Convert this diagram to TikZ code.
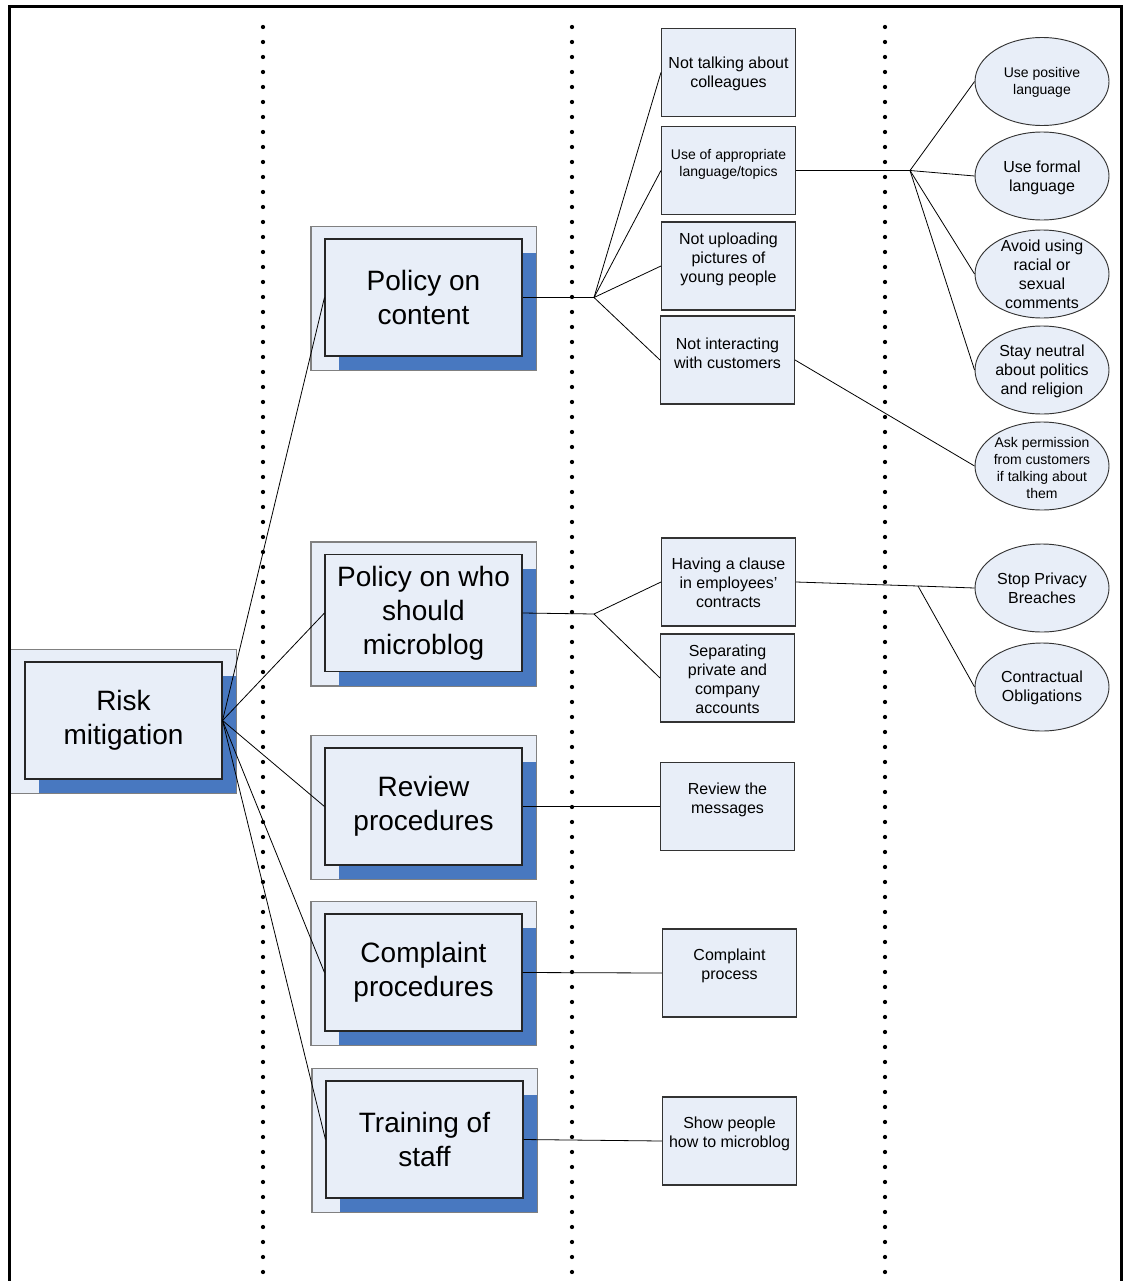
\documentclass[tikz,border=0pt]{standalone}
\usepackage{fontspec}
\setmainfont{Liberation Sans}
\usepackage{xcolor}
\usepackage{tikz}
\usetikzlibrary{shapes.geometric,shadows,backgrounds}

\definecolor{boxfill}{HTML}{E8EEF8}
\definecolor{boxblue}{HTML}{4878C0}
\definecolor{framegray}{HTML}{808080}

\tikzset{
  mainbox/.style={draw=black!85, line width=0.8pt, fill=boxfill, inner sep=0pt,
    minimum width=147.75pt, minimum height=87.75pt, align=center,
    font=\fontsize{21}{25.5}\selectfont,
    general shadow={fill=boxblue, shadow xshift=10.5pt, shadow yshift=-10.5pt}},
  outerbox/.style={draw=framegray, line width=0.9pt, fill=boxfill},
  leaf/.style={draw=black!80, line width=0.8pt, fill=boxfill, inner sep=0pt,
    minimum width=100.5pt, minimum height=66pt},
  bubble/.style={ellipse, draw=black!80, line width=0.7pt, fill=boxfill, inner sep=0pt,
    minimum width=100.5pt, minimum height=66pt},
  txt/.style={align=center, inner sep=0pt, font=\fontsize{12}{14.25}\selectfont},
  smalltxt/.style={align=center, inner sep=0pt, font=\fontsize{10.5}{12.75}\selectfont},
  link/.style={draw=black, line width=0.6pt},
  dotline/.style={line width=3.2pt, line cap=round, dash pattern=on 0pt off 11.25pt}
}

\begin{document}
\begin{tikzpicture}[x=0.75pt,y=0.75pt]
\useasboundingbox (0,0) rectangle (1123,-1281);
% page frame
\draw [line width=2.25pt] (9.5,-1281) -- (9.5,-7) -- (1121.5,-7) -- (1121.5,-1281);
% column separators
\draw [dotline] (263,-27) -- (263,-1281);
\draw [dotline] (572,-27) -- (572,-1281);
\draw [dotline] (885,-27) -- (885,-1281);
% main boxes
\node [mainbox] (risk) at (123.5,-720.5) {Risk\\mitigation};
\node [mainbox] (content) at (423.5,-297.5) {Policy on\\content};
\node [mainbox] (who) at (423.5,-613) {Policy on who\\should\\microblog};
\node [mainbox] (review) at (423.5,-806.5) {Review\\procedures};
\node [mainbox] (complaint) at (423.5,-972.5) {Complaint\\procedures};
\node [mainbox] (training) at (424.5,-1139.5) {Training of\\staff};
\begin{scope}[on background layer]
\draw [outerbox] ([shift={(-14,12)}]risk.north west) rectangle ([shift={(14,-14)}]risk.south east);
\draw [outerbox] ([shift={(-13.5,12)}]content.north west) rectangle ([shift={(14,-14)}]content.south east);
\draw [outerbox] ([shift={(-13.5,12)}]who.north west) rectangle ([shift={(14,-14)}]who.south east);
\draw [outerbox] ([shift={(-13.5,12)}]review.north west) rectangle ([shift={(14,-14)}]review.south east);
\draw [outerbox] ([shift={(-13.5,12)}]complaint.north west) rectangle ([shift={(14,-14)}]complaint.south east);
\draw [outerbox] ([shift={(-13.5,12)}]training.north west) rectangle ([shift={(14,-14)}]training.south east);
\end{scope}
% rules
\node [leaf, label={[txt,yshift=-0.75pt]center:{Not talking about\\colleagues}}] (colleagues) at (728.5,-72.5) {};
\node [leaf, label={[smalltxt,yshift=4.5pt]center:{Use of appropriate\\language/topics}}] (topics) at (728.5,-170.5) {};
\node [leaf, label={[txt,yshift=5pt]center:{Not uploading\\pictures of\\young people}}] (pictures) at (728.5,-266) {};
\node [leaf, label={[txt,yshift=5pt]center:{Not interacting\\with customers}}] (customers) at (727.5,-360) {};
\node [leaf, label={[txt,yshift=-0.5pt]center:{Having a clause\\in employees’\\contracts}}] (clause) at (728.5,-582) {};
\node [leaf, label={[txt,yshift=-1pt]center:{Separating\\private and\\company\\accounts}}] (accounts) at (727.5,-678) {};
\node [leaf, label={[txt,yshift=5.25pt]center:{Review the\\messages}}] (messages) at (727.5,-806.5) {};
\node [leaf, label={[txt,yshift=5pt]center:{Complaint\\process}}] (process) at (729.5,-973) {};
\node [leaf, label={[txt,yshift=5pt]center:{Show people\\how to microblog}}] (show) at (729.5,-1141) {};
% details
\node [bubble, label={[smalltxt,yshift=-0.75pt]center:{Use positive\\language}}] (positive) at (1042,-81.5) {};
\node [bubble, label={[txt,yshift=-1.25pt]center:{Use formal\\language}}] (formal) at (1042,-176) {};
\node [bubble, label={[txt,yshift=-0.5pt]center:{Avoid using\\racial or\\sexual\\comments}}] (racial) at (1042,-274) {};
\node [bubble, label={[txt,yshift=-0.75pt]center:{Stay neutral\\about politics\\and religion}}] (neutral) at (1042,-370) {};
\node [bubble, label={[smalltxt,yshift=-1.25pt]center:{Ask permission\\from customers\\if talking about\\them}}] (permission) at (1042,-466) {};
\node [bubble, label={[txt]center:{Stop Privacy\\Breaches}}] (privacy) at (1042,-588) {};
\node [bubble, label={[txt,yshift=-1pt]center:{Contractual\\Obligations}}] (obligations) at (1042,-687) {};
% branch points
\coordinate (jcontent) at (594,-297.5);
\coordinate (jtopics) at (910,-170.5);
\coordinate (jwho) at (594,-614);
\coordinate (jclause) at (918,-586);
% connectors
\draw [link] (risk.east) -- (content.west);
\draw [link] (risk.east) -- (who.west);
\draw [link] (risk.east) -- (review.west);
\draw [link] (risk.east) -- (complaint.west);
\draw [link] (risk.east) -- (training.west);
\draw [link] (content.east) -- (jcontent);
\draw [link] (jcontent) -- (colleagues.west);
\draw [link] (jcontent) -- (topics.west);
\draw [link] (jcontent) -- (pictures.west);
\draw [link] (jcontent) -- (customers.west);
\draw [link] (topics.east) -- (jtopics);
\draw [link] (jtopics) -- (positive.west);
\draw [link] (jtopics) -- (formal.west);
\draw [link] (jtopics) -- (racial.west);
\draw [link] (jtopics) -- (neutral.west);
\draw [link] (customers.east) -- (permission.west);
\draw [link] (who.east) -- (jwho);
\draw [link] (jwho) -- (clause.west);
\draw [link] (jwho) -- (accounts.west);
\draw [link] (clause.east) -- (jclause);
\draw [link] (jclause) -- (privacy.west);
\draw [link] (jclause) -- (obligations.west);
\draw [link] (review.east) -- (messages.west);
\draw [link] (complaint.east) -- (process.west);
\draw [link] (training.east) -- (show.west);
\end{tikzpicture}
\end{document}
